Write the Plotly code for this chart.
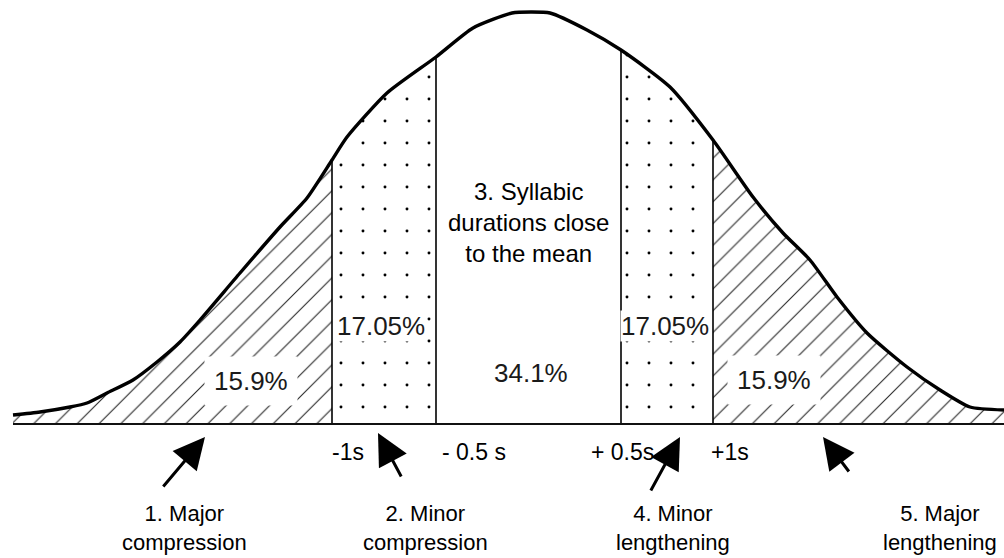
import plotly.graph_objects as go

# Bell curve: horizontal position and height above the baseline
curve_pos = [13, 40, 70, 87, 107, 133, 157, 180, 200, 240, 280, 307, 332, 347, 387, 436, 473,
             512, 531, 550, 587, 621, 670, 713, 753, 783, 810, 837, 867, 907, 940, 970, 1004]
curve_height = [9, 12, 17, 21, 31, 44, 62, 82, 104, 151, 197, 226, 264, 287, 331, 367, 396,
                411, 412, 411, 394, 374, 337, 284, 227, 191, 164, 127, 91, 57, 34, 17, 14]

# Region boundaries (-1s, -0.5s, +0.5s, +1s)
bound_pos = [332, 436, 621, 713]
bound_labels = ["-1s", "- 0.5 s", "+ 0.5s", "+1s"]
bound_label_pos = [348, 474, 622, 730]

# Percentages per region
pct_labels = ["15.9%", "17.05%", "34.1%", "17.05%", "15.9%"]
pct_x = [251, 381, 531, 665, 774]
pct_y = [43, 98, 51, 98, 44]

# Categories under the axis
cat_labels = ["1. Major<br>compression", "2. Minor<br>compression",
              "4. Minor<br>lengthening", "5. Major<br>lengthening"]
cat_x = [184, 425, 673, 940]
arrow_tip_x = [205, 378, 680, 823]
arrow_tip_y = [-13, -9, -13, -13]
arrow_tail_x = [162, 402, 650, 850]
arrow_tail_y = [-64, -54, -68, -49]

center_label = "3. Syllabic<br>durations close<br>to the mean"

fig = go.Figure()


def segment(lo, hi):
    xs = [p for p in curve_pos if lo <= p <= hi]
    ys = [curve_height[curve_pos.index(p)] for p in xs]
    return xs, ys


regions = [(curve_pos[0], bound_pos[0], "/"),
           (bound_pos[0], bound_pos[1], "."),
           (bound_pos[2], bound_pos[3], "."),
           (bound_pos[3], curve_pos[-1], "/")]
for lo, hi, shape in regions:
    xs, ys = segment(lo, hi)
    if shape == "/":
        pat = dict(shape="/", size=15.4, solidity=0.07, fgcolor="#000000",
                   bgcolor="white", fgopacity=0.85)
    else:
        pat = dict(shape=".", size=22, solidity=0.014, fgcolor="#000000",
                   bgcolor="white", fgopacity=1)
    fig.add_trace(go.Scatter(x=xs, y=ys, mode="lines", fill="tozeroy",
                             fillpattern=pat,
                             line=dict(width=0, color="black", shape="spline", smoothing=0.6),
                             hoverinfo="skip", showlegend=False))

# vertical boundary lines
for b in bound_pos:
    h = curve_height[curve_pos.index(b)]
    fig.add_trace(go.Scatter(x=[b, b], y=[0, h], mode="lines",
                             line=dict(color="black", width=1.6),
                             hoverinfo="skip", showlegend=False))

# baseline
fig.add_trace(go.Scatter(x=[curve_pos[0], curve_pos[-1]], y=[0, 0], mode="lines",
                         line=dict(color="#111111", width=2.2),
                         hoverinfo="skip", showlegend=False))

# curve
fig.add_trace(go.Scatter(x=curve_pos, y=curve_height, mode="lines",
                         line=dict(color="black", width=3.4, shape="spline", smoothing=0.6),
                         hoverinfo="skip", showlegend=False))

pct_font = dict(family="Liberation Sans, Arial", size=26, color="#1a1a1a")
for t, x, y in zip(pct_labels, pct_x, pct_y):
    fig.add_annotation(x=x, y=y, text=t, showarrow=False, font=pct_font,
                       bgcolor="white", borderpad=0 if "17" in t else 9)

fig.add_annotation(x=528, y=202, text=center_label, showarrow=False,
                   font=dict(family="Liberation Sans, Arial", size=24, color="black"))

tick_font = dict(family="Liberation Sans, Arial", size=23, color="black")
for t, x in zip(bound_labels, bound_label_pos):
    fig.add_annotation(x=x, y=-28, text=t, showarrow=False, font=tick_font)

lab_font = dict(family="Liberation Sans, Arial", size=22, color="black")
for t, x in zip(cat_labels, cat_x):
    fig.add_annotation(x=x, y=-104, text=t, showarrow=False, font=lab_font)

for tx, ty, ax, ay in zip(arrow_tip_x, arrow_tip_y, arrow_tail_x, arrow_tail_y):
    fig.add_annotation(x=tx, y=ty, ax=ax, ay=ay, axref="x", ayref="y", xref="x", yref="y",
                       text="", showarrow=True, arrowhead=2, arrowsize=2.1,
                       arrowwidth=3, arrowcolor="black", standoff=0)

fig.update_layout(width=1004, height=558, margin=dict(l=0, r=0, t=0, b=0),
                  paper_bgcolor="white", plot_bgcolor="white",
                  xaxis=dict(range=[0, 1004], visible=False, fixedrange=True),
                  yaxis=dict(range=[-134, 424], visible=False, fixedrange=True))

fig.write_html("out.html", config={"displayModeBar": False},
               post_script="document.body.style.margin='0';document.body.style.overflow='hidden';")
